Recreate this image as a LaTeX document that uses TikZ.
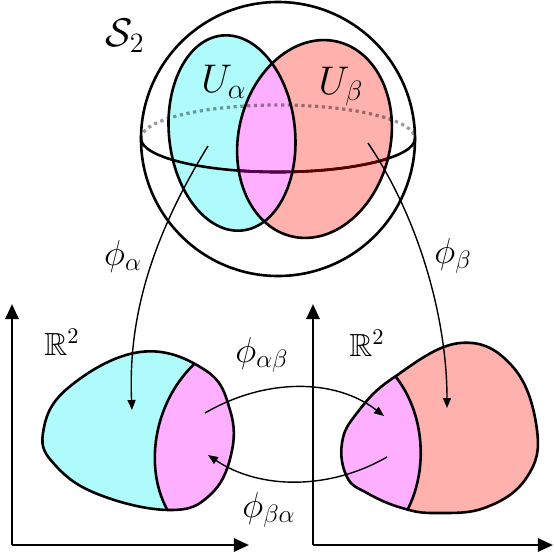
\RequirePackage{fix-cm}
\documentclass[tikz,border=0pt]{standalone}
\usepackage{amsmath,amssymb}
\usetikzlibrary{arrows.meta}
\definecolor{ucyan}{RGB}{175,250,250}
\definecolor{upink}{RGB}{255,175,255}
\definecolor{ured}{RGB}{255,177,173}
\definecolor{dpurple}{RGB}{85,0,85}
\definecolor{dred}{RGB}{90,0,0}
\tikzset{
  outline/.style={line width=1.3pt},
  maparrow/.style={line width=0.7pt,-{Triangle[length=5pt,width=4pt]}},
  axis/.style={line width=1.3pt,-{Triangle[length=7.5pt,width=6.5pt]}},
  biglabel/.style={inner sep=0pt,font=\fontsize{20}{22}\selectfont},
  maplabel/.style={inner sep=0pt,font=\fontsize{18}{20}\selectfont},
  rlabel/.style={inner sep=0pt,font=\fontsize{16}{18}\selectfont},
}
\begin{document}
\begin{tikzpicture}[x=0.5pt,y=-0.5pt]
\useasboundingbox (0,0) rectangle (554,554);
% ---- sphere
\def\blueell{(232,133) ellipse [x radius=63,y radius=98]}
\def\redell{(314.5,139) ellipse [x radius=76,y radius=100]}
\def\backarc{(141,138.5) arc[start angle=180,end angle=360,x radius=137,y radius=33.5]}
\def\frontarc{(141,138.5) arc[start angle=180,end angle=0,x radius=137,y radius=33.5]}
\fill[ucyan,rotate around={6:(232,133)}] \blueell;
\fill[ured,rotate around={-13:(314.5,139)}] \redell;
\begin{scope}
  \clip[rotate around={6:(232,133)}] \blueell;
  \fill[upink,rotate around={-13:(314.5,139)}] \redell;
\end{scope}
% equator
\draw[black,opacity=0.4,line width=1.6pt,dash pattern=on 1.6pt off 1.8pt] \backarc;
\draw[outline] \frontarc;
\begin{scope}
  \clip[rotate around={-13:(314.5,139)}] \redell;
  \draw[outline,dred] \frontarc;
  \clip[rotate around={6:(232,133)}] \blueell;
  \draw[outline,dpurple] \frontarc;
\end{scope}
\draw[outline,rotate around={6:(232,133)}] \blueell;
\draw[outline,rotate around={-13:(314.5,139)}] \redell;
\draw[outline] (278,139) circle[radius=137];
\node[biglabel] (S) at (125,36) {$\mathcal{S}_2$};
\node[biglabel] (Ua) at (224,82) {$U_\alpha$};
\node[biglabel] (Ub) at (341,87) {$U_\beta$};
% ---- left chart
\coordinate (O1) at (12,545);
\coordinate (Y1) at (12,304);
\coordinate (X1) at (249,545);
\draw[axis] (O1) -- (Y1);
\draw[axis] (O1) -- (X1);
\def\lblob{plot[smooth cycle,tension=0.7] coordinates {(43,433) (68,388) (140,352) (205,370) (230,410) (231,455) (210,495) (170,510) (100,495) (56,466)}}
\def\ldiv{(212,350) .. controls (150,390) and (138,480) .. (178,525)}
\fill[ucyan] \lblob;
\begin{scope}
  \clip \lblob;
  \fill[upink] \ldiv -- (300,560) -- (300,330) -- cycle;
  \draw[outline] \ldiv;
\end{scope}
\draw[outline] \lblob;
\node[rlabel] (R1) at (62,342) {$\mathbb{R}^2$};
% ---- right chart
\coordinate (O2) at (313,545);
\coordinate (Y2) at (313,304);
\coordinate (X2) at (553,545);
\draw[axis] (O2) -- (Y2);
\draw[axis] (O2) -- (X2);
\def\rblob{plot[smooth cycle,tension=0.7] coordinates {(342,443) (357,413) (393,378) (460,343) (513,367) (537,430) (527,477) (487,507) (437,513) (402,508) (367,493) (347,477)}}
\def\rdiv{(385,365) .. controls (428,405) and (432,480) .. (398,525)}
\fill[ured] \rblob;
\begin{scope}
  \clip \rblob;
  \fill[upink] \rdiv -- (300,560) -- (300,330) -- cycle;
  \draw[outline] \rdiv;
\end{scope}
\draw[outline] \rblob;
\node[rlabel] (R2) at (367,343) {$\mathbb{R}^2$};
% ---- maps
\coordinate (pa) at (208,146);
\coordinate (qa) at (132,410);
\coordinate (pb) at (368,143);
\coordinate (qb) at (447,408);
\coordinate (ab1) at (205,413);
\coordinate (ab2) at (384,416);
\coordinate (ba1) at (387,457);
\coordinate (ba2) at (208,455);
\draw[maparrow] (pa) .. controls (150,240) and (128,320) .. (qa);
\draw[maparrow] (pb) .. controls (420,220) and (447,320) .. (qb);
\draw[maparrow] (ab1) .. controls (265,378) and (335,378) .. (ab2);
\draw[maparrow] (ba1) .. controls (330,490) and (260,490) .. (ba2);
\node[maplabel] (fa) at (123,256) {$\phi_\alpha$};
\node[maplabel] (fb) at (453,256) {$\phi_\beta$};
\node[maplabel] (fab) at (262,355) {$\phi_{\alpha\beta}$};
\node[maplabel] (fba) at (269,510) {$\phi_{\beta\alpha}$};
\end{tikzpicture}
\end{document}
